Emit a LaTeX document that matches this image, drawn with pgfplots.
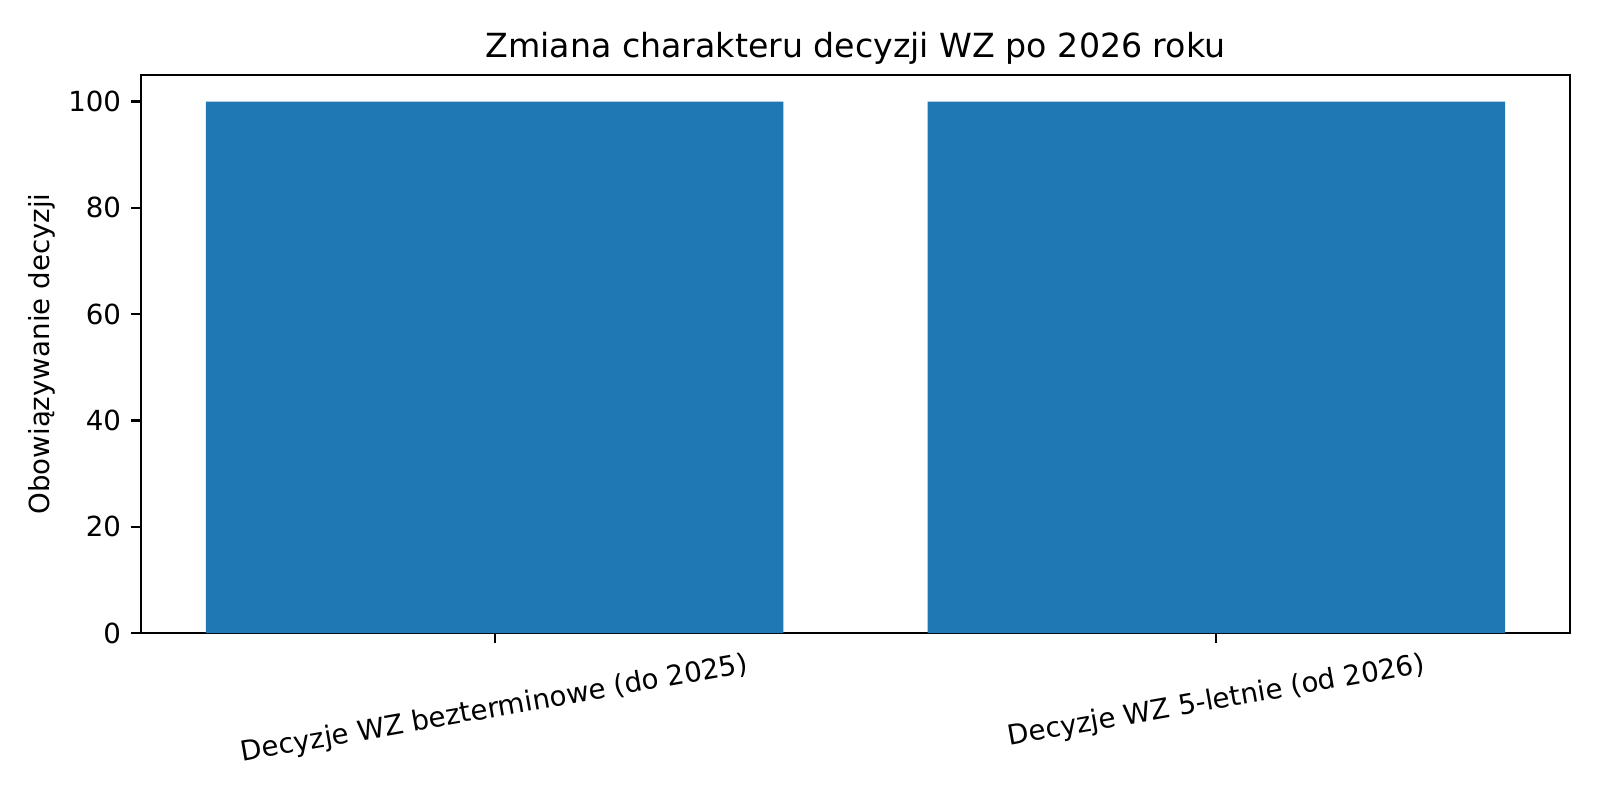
\documentclass[border=0pt]{standalone}
\usepackage{fontspec}
\setmainfont{DejaVu Sans}
\usepackage{graphicx}
\usepackage{pgfplots}
\pgfplotsset{compat=1.18}
\definecolor{mplblue}{HTML}{1F77B4}
\begin{document}
\begin{tikzpicture}
\begin{axis}[
    scale only axis,
    width=7.145in,
    height=2.79in,
    xmin=-0.49, xmax=1.49,
    ymin=0, ymax=105,
    xtick={0,1},
    xticklabels={\rotatebox{10}{Decyzje WZ bezterminowe (do 2025)}, \rotatebox{10}{Decyzje WZ 5-letnie (od 2026)}},
    ytick={0,20,40,60,80,100},
    tick align=outside,
    xtick pos=bottom,
    ytick pos=left,
    major tick length=3.5pt,
    every tick/.style={black, line width=0.8pt},
    axis line style={line width=0.8pt},
    /pgf/number format/assume math mode=true,
    tick label style={font=\fontsize{10}{12}\selectfont, inner sep=0pt},
    xticklabel style={anchor=north, yshift=-3pt},
    yticklabel style={anchor=east, xshift=-3.5pt},
    ylabel={Obowiązywanie decyzji},
    ylabel style={font=\fontsize{10}{12}\selectfont, at={(axis description cs:0,0.5)}, anchor=center, yshift=0.495in},
    title={Zmiana charakteru decyzji WZ po 2026 roku},
    every axis title shift=0pt,
    title style={font=\fontsize{12}{14}\selectfont, at={(axis description cs:0.5,1)}, anchor=base, yshift=6.3pt, inner sep=0pt},
]
\addplot[ybar, bar width=0.8, bar shift=0pt, fill=mplblue, draw=none] coordinates {
    (0,100)
    (1,100)
};
\end{axis}
\pgfresetboundingbox
\path ([shift={(-0.705in,-0.835in)}]current axis.south west) rectangle ([shift={(0.15in,0.375in)}]current axis.north east);
\end{tikzpicture}
\end{document}
